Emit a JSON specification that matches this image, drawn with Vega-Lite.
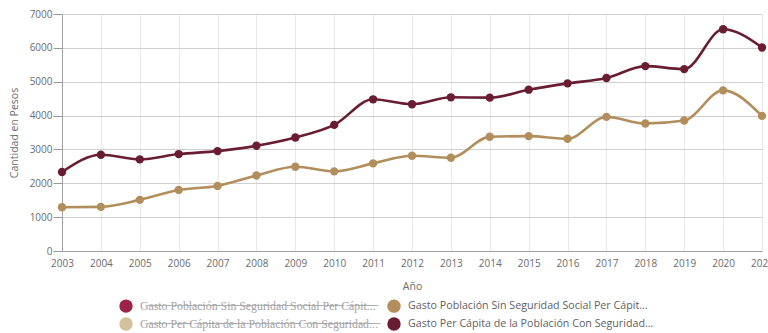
{
  "$schema": "https://vega.github.io/schema/vega-lite/v6.json",
  "autosize": "none",
  "padding": {"left": 62, "top": 14, "right": 6, "bottom": 82},
  "width": 700,
  "height": 237,
  "background": "white",
  "config": {
    "font": "Open Sans",
    "view": {"stroke": null},
    "axis": {
      "labelFont": "Open Sans",
      "labelFontSize": 10,
      "labelColor": "#6b6b6b",
      "titleFont": "Open Sans",
      "titleFontSize": 10.5,
      "titleFontWeight": "normal",
      "titleColor": "#6b6b6b",
      "domainColor": "#9a9a9a",
      "tickColor": "#9a9a9a"
    },
    "legend": {
      "labelFont": "Open Sans",
      "labelFontSize": 10.7,
      "labelColor": "#5f5f5f",
      "labelLimit": 0,
      "symbolType": "circle",
      "symbolSize": 180,
      "symbolStrokeWidth": 0,
      "symbolOpacity": 1
    }
  },
  "data": {
    "values": [
      {"anio": 2003, "serie": "Con Seguridad Social", "valor": 2333},
      {"anio": 2004, "serie": "Con Seguridad Social", "valor": 2843},
      {"anio": 2005, "serie": "Con Seguridad Social", "valor": 2706},
      {"anio": 2006, "serie": "Con Seguridad Social", "valor": 2863},
      {"anio": 2007, "serie": "Con Seguridad Social", "valor": 2951},
      {"anio": 2008, "serie": "Con Seguridad Social", "valor": 3108},
      {"anio": 2009, "serie": "Con Seguridad Social", "valor": 3353},
      {"anio": 2010, "serie": "Con Seguridad Social", "valor": 3725},
      {"anio": 2011, "serie": "Con Seguridad Social", "valor": 4480},
      {"anio": 2012, "serie": "Con Seguridad Social", "valor": 4333},
      {"anio": 2013, "serie": "Con Seguridad Social", "valor": 4539},
      {"anio": 2014, "serie": "Con Seguridad Social", "valor": 4529},
      {"anio": 2015, "serie": "Con Seguridad Social", "valor": 4765},
      {"anio": 2016, "serie": "Con Seguridad Social", "valor": 4951},
      {"anio": 2017, "serie": "Con Seguridad Social", "valor": 5108},
      {"anio": 2018, "serie": "Con Seguridad Social", "valor": 5461},
      {"anio": 2019, "serie": "Con Seguridad Social", "valor": 5373},
      {"anio": 2020, "serie": "Con Seguridad Social", "valor": 6549},
      {"anio": 2021, "serie": "Con Seguridad Social", "valor": 6010},
      {"anio": 2003, "serie": "Sin Seguridad Social", "valor": 1294},
      {"anio": 2004, "serie": "Sin Seguridad Social", "valor": 1304},
      {"anio": 2005, "serie": "Sin Seguridad Social", "valor": 1510},
      {"anio": 2006, "serie": "Sin Seguridad Social", "valor": 1804},
      {"anio": 2007, "serie": "Sin Seguridad Social", "valor": 1922},
      {"anio": 2008, "serie": "Sin Seguridad Social", "valor": 2230},
      {"anio": 2009, "serie": "Sin Seguridad Social", "valor": 2490},
      {"anio": 2010, "serie": "Sin Seguridad Social", "valor": 2353},
      {"anio": 2011, "serie": "Sin Seguridad Social", "valor": 2588},
      {"anio": 2012, "serie": "Sin Seguridad Social", "valor": 2814},
      {"anio": 2013, "serie": "Sin Seguridad Social", "valor": 2755},
      {"anio": 2014, "serie": "Sin Seguridad Social", "valor": 3373},
      {"anio": 2015, "serie": "Sin Seguridad Social", "valor": 3392},
      {"anio": 2016, "serie": "Sin Seguridad Social", "valor": 3314},
      {"anio": 2017, "serie": "Sin Seguridad Social", "valor": 3961},
      {"anio": 2018, "serie": "Sin Seguridad Social", "valor": 3765},
      {"anio": 2019, "serie": "Sin Seguridad Social", "valor": 3853},
      {"anio": 2020, "serie": "Sin Seguridad Social", "valor": 4745},
      {"anio": 2021, "serie": "Sin Seguridad Social", "valor": 3990}
    ]
  },
  "encoding": {
    "x": {
      "field": "anio",
      "type": "quantitative",
      "scale": {"domain": [2003, 2021], "nice": false, "zero": false},
      "axis": {
        "title": "Año",
        "format": "d",
        "values": [2003, 2004, 2005, 2006, 2007, 2008, 2009, 2010, 2011, 2012, 2013, 2014, 2015, 2016, 2017, 2018, 2019, 2020, 2021],
        "labelOverlap": false,
        "labelFlush": false,
        "ticks": false,
        "labelPadding": 7,
        "titlePadding": 13,
        "gridColor": "#e8e8e8",
        "domainColor": "#a0a0a0"
      }
    },
    "y": {
      "field": "valor",
      "type": "quantitative",
      "scale": {"domain": [0, 7000], "nice": false},
      "axis": {
        "title": "Cantidad en Pesos",
        "values": [0, 1000, 2000, 3000, 4000, 5000, 6000, 7000],
        "format": "d",
        "tickSize": 9,
        "labelPadding": 1,
        "titlePadding": 10,
        "gridColor": "#cfcfcf",
        "domainColor": "#a0a0a0"
      }
    },
    "color": {
      "field": "serie",
      "type": "nominal",
      "scale": {
        "domain": ["Sin Seguridad Social (oculta)", "Con Seguridad Social (oculta)", "Sin Seguridad Social", "Con Seguridad Social"],
        "range": ["#9D2449", "#D4C19C", "#B38E5D", "#691C32"]
      },
      "legend": {
        "title": null,
        "orient": "none",
        "legendX": 57,
        "legendY": 285,
        "columns": 2,
        "columnPadding": 8,
        "rowPadding": 4,
        "labelOffset": 7,
        "labelExpr": "test(/oculta/, datum.value) ? replace((test(/^Sin/, datum.value) ? 'Gasto Población Sin Seguridad Social Per Cápit...' : 'Gasto Per Cápita de la Población Con Seguridad...'), /(.)/g, '$1\u0336') : (test(/^Sin/, datum.value) ? 'Gasto Población Sin Seguridad Social Per Cápit...' : 'Gasto Per Cápita de la Población Con Seguridad...')",
        "encode": {
          "labels": {"update": {
            "fill": {"signal": "test(/oculta/, datum.value) ? '#a3a3a3' : '#5f5f5f'"},
            "fontSize": {"signal": "test(/oculta/, datum.value) ? 11.8 : 10.7"}
          }},
          "symbols": {"update": {"fill": {"scale": "color", "field": "value"}, "opacity": {"value": 1}, "strokeWidth": {"value": 0}}}
        }
      }
    }
  },
  "layer": [
    {"mark": {"type": "line", "interpolate": "monotone", "strokeWidth": 2.6}},
    {"mark": {"type": "point", "filled": true, "size": 70, "opacity": 1}}
  ]
}
